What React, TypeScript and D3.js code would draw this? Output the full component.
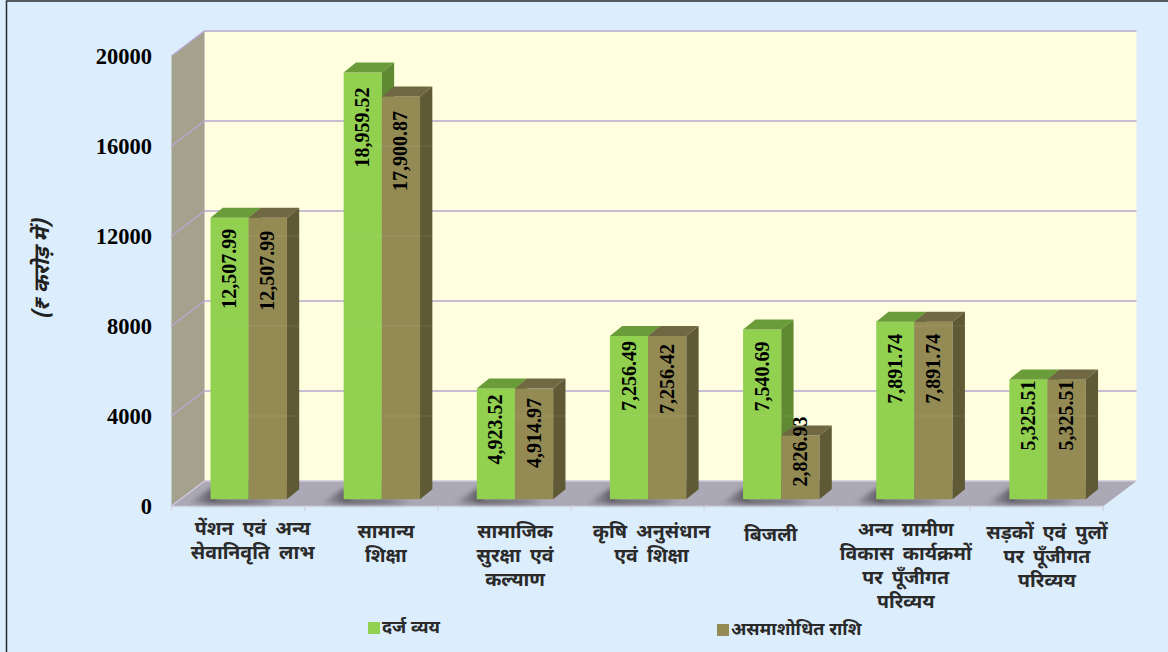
import React from "react";
import * as d3 from "d3";

const categories = [
  ["पेंशन एवं अन्य", "सेवानिवृति लाभ"],
  ["सामान्य", "शिक्षा"],
  ["सामाजिक", "सुरक्षा एवं", "कल्याण"],
  ["कृषि अनुसंधान", "एवं शिक्षा"],
  ["बिजली"],
  ["अन्य ग्रामीण", "विकास कार्यक्रमों", "पर पूँजीगत", "परिव्यय"],
  ["सड़कों एवं पुलों", "पर पूँजीगत", "परिव्यय"],
];
const recorded = [12507.99, 18959.52, 4923.52, 7256.49, 7540.69, 7891.74, 5325.51];
const unabsorbed = [12507.99, 17900.87, 4914.97, 7256.42, 2826.93, 7891.74, 5325.51];
const yTicks = [0, 4000, 8000, 12000, 16000, 20000];
const seriesNames = ["दर्ज व्यय", "असमाशोधित राशि"];
const yTitle = "(₹ करोड़ में)";

// text layout
const labelShift = [14.5, 14.7, 10.7, 14, 0, 2, 10];
const labelBaseline = [535, 538, 538, 538, 541, 536, 539];
const valueOffsetA = [51, 55, 41, 40, 47, 47, 36];
const valueOffsetB = [53, 54.5, 44.5, 43, 16, 47, 36];

const GREEN = "#92d050", GREEN_TOP = "#6b9c3a", GREEN_SIDE = "#5f8a33";
const OLIVE = "#948a54", OLIVE_TOP = "#6f6842", OLIVE_SIDE = "#5f5935";

const DEV = "'Noto Sans Devanagari','Noto Sans','Lohit Devanagari','Noto Serif Devanagari',sans-serif";
const NUM = "'Liberation Serif','Times New Roman',serif";

const fmt = d3.format(",.2f");

export default function App() {
  const frontL = 171.5, frontR = 1103.5, depthX = 33, depthY = 25;
  const y = d3.scaleLinear().domain([0, 20000]).range([506, 56]);
  const band = d3.scaleBand<number>().domain(categories.map((_, i) => i)).range([frontL, frontR]);
  const barW = 38.2, barInset = 39, lift = 6.8, bx = 12.3, by = 10;
  const h = (v: number) => y(0) - y(v);
  const barY = (v: number) => y(0) - lift - h(v);
  const baseY = y(0) - lift;
  const poly = (pts: number[][]) => pts.map((p) => p.join(",")).join(" ");

  const bar = (x0: number, v: number, face: string, top: string, side: string, key: string) => {
    const t = barY(v);
    const ticks = yTicks.filter((tk) => tk > 0 && y(tk) > t && y(tk) < baseY);
    return (
      <g key={key}>
        <rect x={x0} y={t} width={barW} height={baseY - t} fill={face} />
        <polygon points={poly([[x0, t], [x0 + bx, t - by], [x0 + barW + bx, t - by], [x0 + barW, t]])} fill={top} />
        <polygon points={poly([[x0 + barW, t], [x0 + barW + bx, t - by], [x0 + barW + bx, baseY - by], [x0 + barW, baseY]])} fill={side} />
        {ticks.map((tk) => (
          <line key={tk} x1={x0} x2={x0 + barW + bx} y1={y(tk)} y2={y(tk)} stroke="#d8d8c0" strokeOpacity={0.14} strokeWidth={1} />
        ))}
      </g>
    );
  };

  return (
    <svg width={1168} height={652} style={{ position: "absolute", left: 0, top: 0 }}>
      <defs>
        <filter id="blur" x="-20%" y="-100%" width="140%" height="300%">
          <feGaussianBlur stdDeviation="2" />
        </filter>
        <linearGradient id="shade" x1="0" x2="1" y1="0" y2="0">
          <stop offset="0" stopColor="#4a4750" stopOpacity={0} />
          <stop offset="0.3" stopColor="#4a4750" stopOpacity={0.85} />
          <stop offset="0.7" stopColor="#4a4750" stopOpacity={0.6} />
          <stop offset="1" stopColor="#4a4750" stopOpacity={0} />
        </linearGradient>
      </defs>
      <rect x={0} y={0} width={1168} height={652} fill="#dcedfb" />
      <path d="M6.5,652V1H1168" fill="none" stroke="#2b2b2b" strokeWidth={1.5} />

      {/* back wall */}
      <rect x={frontL + depthX} y={y(20000) - depthY} width={frontR - frontL} height={450} fill="#ffffdf" />
      {/* side wall */}
      <polygon
        points={poly([[frontL, y(20000)], [frontL + depthX, y(20000) - depthY], [frontL + depthX, y(0) - depthY], [frontL, y(0)]])}
        fill="#a4a28c"
      />
      {/* floor */}
      <polygon
        points={poly([[frontL, y(0)], [frontL + depthX, y(0) - depthY], [frontR + depthX, y(0) - depthY], [frontR, y(0)]])}
        fill="#aca9b6"
      />
      <line x1={frontL} x2={frontR} y1={y(0) + 0.5} y2={y(0) + 0.5} stroke="#cfd3e2" strokeWidth={1.5} />
      {/* gridlines */}
      {yTicks.map((t) => (
        <path
          key={t}
          d={`M${frontL},${y(t)}L${frontL + depthX},${y(t) - depthY}H${frontR + depthX}`}
          fill="none"
          stroke={t === 0 ? "#cfc6dc" : "#b7a8d2"}
          strokeWidth={1.5}
        />
      ))}
      {/* category ticks on front edge */}
      {d3.range(0, categories.length + 1).map((i) => {
        const x = frontL + band.step() * i;
        return <line key={i} x1={x} x2={x} y1={y(0)} y2={y(0) + 5} stroke="#cfd3e2" strokeWidth={1.2} />;
      })}

      {/* floor shadows */}
      {categories.map((_, i) => {
        const x0 = band(i)! + barInset;
        return (
          <polygon
            key={i}
            points={poly([[x0 - 24, baseY + 4.5], [x0 + 2, baseY - 12], [x0 + 6, baseY], [x0 + barW * 2 - 4, baseY], [x0 + barW * 2 - 18, baseY + 4.5]])}
            fill="url(#shade)"
            filter="url(#blur)"
          />
        );
      })}

      {/* bars */}
      {categories.map((_, i) => {
        const x0 = band(i)! + barInset;
        return (
          <g key={i}>
            {bar(x0, recorded[i], GREEN, GREEN_TOP, GREEN_SIDE, "a")}
            {bar(x0 + barW, unabsorbed[i], OLIVE, OLIVE_TOP, OLIVE_SIDE, "b")}
          </g>
        );
      })}

      {/* value labels */}
      {categories.map((_, i) => {
        const x0 = band(i)! + barInset;
        const labels = [
          { v: recorded[i], cx: x0 + barW / 2, off: valueOffsetA[i] },
          { v: unabsorbed[i], cx: x0 + barW * 1.5, off: valueOffsetB[i] },
        ];
        return labels.map((l, k) => (
          <text
            key={`${i}-${k}`}
            transform={`translate(${l.cx + 6.5},${barY(l.v) + l.off}) rotate(-90)`}
            textAnchor="middle"
            fontFamily={NUM}
            fontWeight={700}
            fontSize={20}
            fill="#000"
          >
            {fmt(l.v)}
          </text>
        ));
      })}

      {/* y tick labels */}
      {yTicks.map((t) => (
        <text key={t} x={152} y={y(t) + 7.5} textAnchor="end" fontFamily={NUM} fontWeight={700} fontSize={22.5} fill="#000">
          {t}
        </text>
      ))}

      {/* y title */}
      <text
        transform="translate(49,269.5) rotate(-90)"
        textAnchor="middle"
        fontFamily={DEV}
        fontWeight={700}
        fontStyle="italic"
        fontSize={21.5}
        fill="#222"
      >
        {yTitle}
      </text>

      {/* category labels */}
      {categories.map((lines, i) => {
        const cx = band(i)! + band.step() / 2 + labelShift[i];
        return (
          <text key={i} textAnchor="middle" fontFamily={DEV} fontWeight={700} fontSize={19.5} wordSpacing={4} fill="#2a2a2a">
            {lines.map((s, k) => (
              <tspan key={k} x={cx} y={labelBaseline[i] + k * 24}>
                {s}
              </tspan>
            ))}
          </text>
        );
      })}

      {/* legend */}
      <rect x={368} y={622} width={12} height={12} fill={GREEN} />
      <text x={382} y={632.7} fontFamily={DEV} fontWeight={700} fontSize={18} fill="#2a2a2a">
        {seriesNames[0]}
      </text>
      <rect x={717} y={624} width={12} height={12} fill={OLIVE} />
      <text x={731} y={634.7} fontFamily={DEV} fontWeight={700} fontSize={18} fill="#2a2a2a">
        {seriesNames[1]}
      </text>
    </svg>
  );
}
